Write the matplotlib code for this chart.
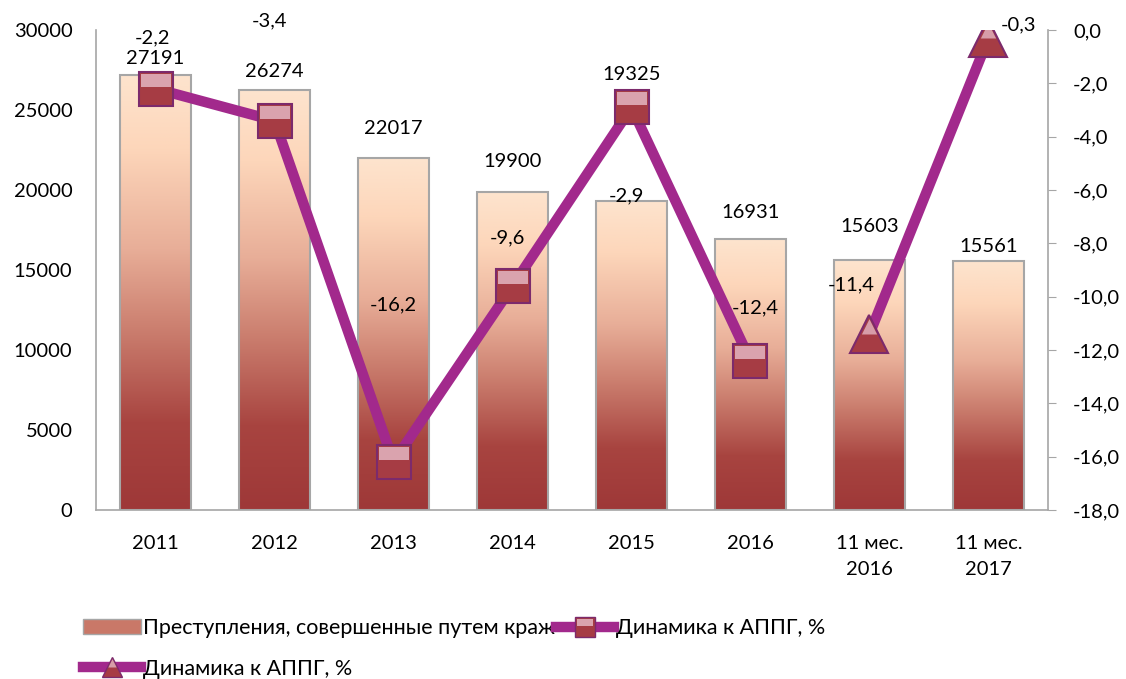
import numpy as np
import matplotlib
matplotlib.use('Agg')
import matplotlib.pyplot as plt
from matplotlib.colors import LinearSegmentedColormap
from matplotlib.lines import Line2D
from matplotlib.patches import Patch
from matplotlib.path import Path
from matplotlib.ticker import FuncFormatter

plt.rcParams['font.family'] = ['Lato', 'DejaVu Sans']

categories = ['2011', '2012', '2013', '2014', '2015', '2016', '11 мес.\n2016', '11 мес.\n2017']
thefts = [27191, 26274, 22017, 19900, 19325, 16931, 15603, 15561]
dyn_years = [-2.2, -3.4, -16.2, -9.6, -2.9, -12.4]      # 2011-2016, squares
dyn_11m = [-11.4, -0.3]                                  # 11 months, triangles

bar_name = 'Преступления, совершенные путем краж'
line_name = 'Динамика к АППГ, %'

# label offsets in pixels (hand tuned to match the picture)
bar_lab_dy = [16, 18, 29, 30, 126, 27, 34, 15]
line_lab_off = [(-3, 51), (-5, 100), (0, 157), (-5, 48), (-5, -89), (5, 53), (-18, 49), (30, 13)]

fs = 14.5
purple = '#A2298C'
grey = '#A6A6A6'
mk_dark = '#A63C44'
mk_light = '#E4B6C2'
mk_edge = '#7C2A6C'
bar_cmap = LinearSegmentedColormap.from_list(
    'bar', [(0.0, '#9E3838'), (0.2, '#A84440'), (0.42, '#CC8070'),
            (0.6, '#E8AE98'), (0.83, '#FDD6BA'), (1.0, '#FDE4CE')])

# highlight shapes for the glossy markers (top part of square / triangle)
sq_hi = Path([(-1, 0.15), (1, 0.15), (1, 1), (-1, 1), (-1, 0.15)], closed=True)
tr_hi = Path([(0, 1), (-0.5, 0.0), (0.5, 0.0), (0, 1)], closed=True)

fig = plt.figure(figsize=(11.26, 6.79), dpi=100)
ax = fig.add_axes([0.0853, 0.2489, 0.8454, 0.7069])
ax2 = ax.twinx()

x = np.arange(len(categories))
bars = ax.bar(x, thefts, width=0.6, color='none', edgecolor=grey, linewidth=1.5, zorder=3)
grad = np.linspace(0, 1, 256).reshape(-1, 1)
for b in bars:
    x0, w, h = b.get_x(), b.get_width(), b.get_height()
    im = ax.imshow(grad, cmap=bar_cmap, origin='lower', aspect='auto',
                   extent=[x0, x0 + w, 0, h], zorder=2)
    im.set_clip_path(b)
for xi, v, dy in zip(x, thefts, bar_lab_dy):
    ax.annotate(str(v), (xi, v), xytext=(0, dy), textcoords='offset pixels',
                ha='center', va='center', fontsize=fs)

ax.set_xlim(-0.5, len(categories) - 0.5)
ax.set_ylim(0, 30000)
ax.set_yticks(range(0, 30001, 5000))
ax.set_xticks(x)
ax.set_xticklabels(categories, fontsize=fs, linespacing=1.65)
ax.tick_params(axis='x', length=0, pad=18)
ax.tick_params(axis='y', length=0, labelsize=fs, pad=17)

# line series
xl1 = x[:len(dyn_years)]
xl2 = x[len(dyn_years):]
ax2.plot(xl1, dyn_years, color=purple, lw=7.5, marker='s', markersize=25,
         markerfacecolor=mk_dark, markeredgecolor=mk_edge, markeredgewidth=1.5, zorder=5)
ax2.plot(xl1, dyn_years, ls='none', marker=sq_hi, markersize=22,
         markerfacecolor=mk_light, markeredgewidth=0, alpha=0.85, zorder=6)
ax2.plot(xl2, dyn_11m, color=purple, lw=7.5, marker='^', markersize=28,
         markerfacecolor=mk_dark, markeredgecolor=mk_edge, markeredgewidth=1.5, zorder=5)
ax2.plot(xl2, dyn_11m, ls='none', marker=tr_hi, markersize=22,
         markerfacecolor=mk_light, markeredgewidth=0, alpha=0.8, zorder=6)
for xi, v, (dx, dy) in zip(x, dyn_years + dyn_11m, line_lab_off):
    ax2.annotate(f'{v:.1f}'.replace('.', ','), (xi, v), xytext=(dx, dy),
                 textcoords='offset pixels', ha='center', va='center', fontsize=fs)

ax2.set_ylim(-18, 0)
ax2.set_yticks(np.arange(-18, 0.1, 2))
ax2.yaxis.set_major_formatter(FuncFormatter(lambda v, p: f'{v:.1f}'.replace('.', ',')))
ax2.tick_params(axis='y', length=6, color=grey, labelsize=fs, pad=12)

for a in (ax, ax2):
    a.spines['top'].set_visible(False)
    for s in ('left', 'right', 'bottom'):
        a.spines[s].set_color(grey)
        a.spines[s].set_linewidth(1.2)
ax2.spines['left'].set_visible(False)
ax2.spines['bottom'].set_visible(False)
ax.spines['right'].set_visible(False)

h_bar = Patch(facecolor='#C97868', edgecolor=grey)
h_sq = (Line2D([], [], color=purple, lw=7.5, marker='s', markersize=14,
               markerfacecolor=mk_dark, markeredgecolor=mk_edge),
        Line2D([], [], ls='none', marker=sq_hi, markersize=12, markerfacecolor=mk_light,
               markeredgewidth=0, alpha=0.85))
h_tr = (Line2D([], [], color=purple, lw=7.5, marker='^', markersize=15,
               markerfacecolor=mk_dark, markeredgecolor=mk_edge),
        Line2D([], [], ls='none', marker=tr_hi, markersize=12, markerfacecolor=mk_light,
               markeredgewidth=0, alpha=0.8))
fig.legend([h_bar, h_tr, h_sq], [bar_name, line_name, line_name], ncol=2,
           loc='upper left', bbox_to_anchor=(0.058, 0.115), frameon=False,
           fontsize=15.5, handlelength=2.7, handletextpad=0.1, columnspacing=0.05,
           labelspacing=0.95, borderpad=0.3)

fig.savefig('out.png', dpi=100)
